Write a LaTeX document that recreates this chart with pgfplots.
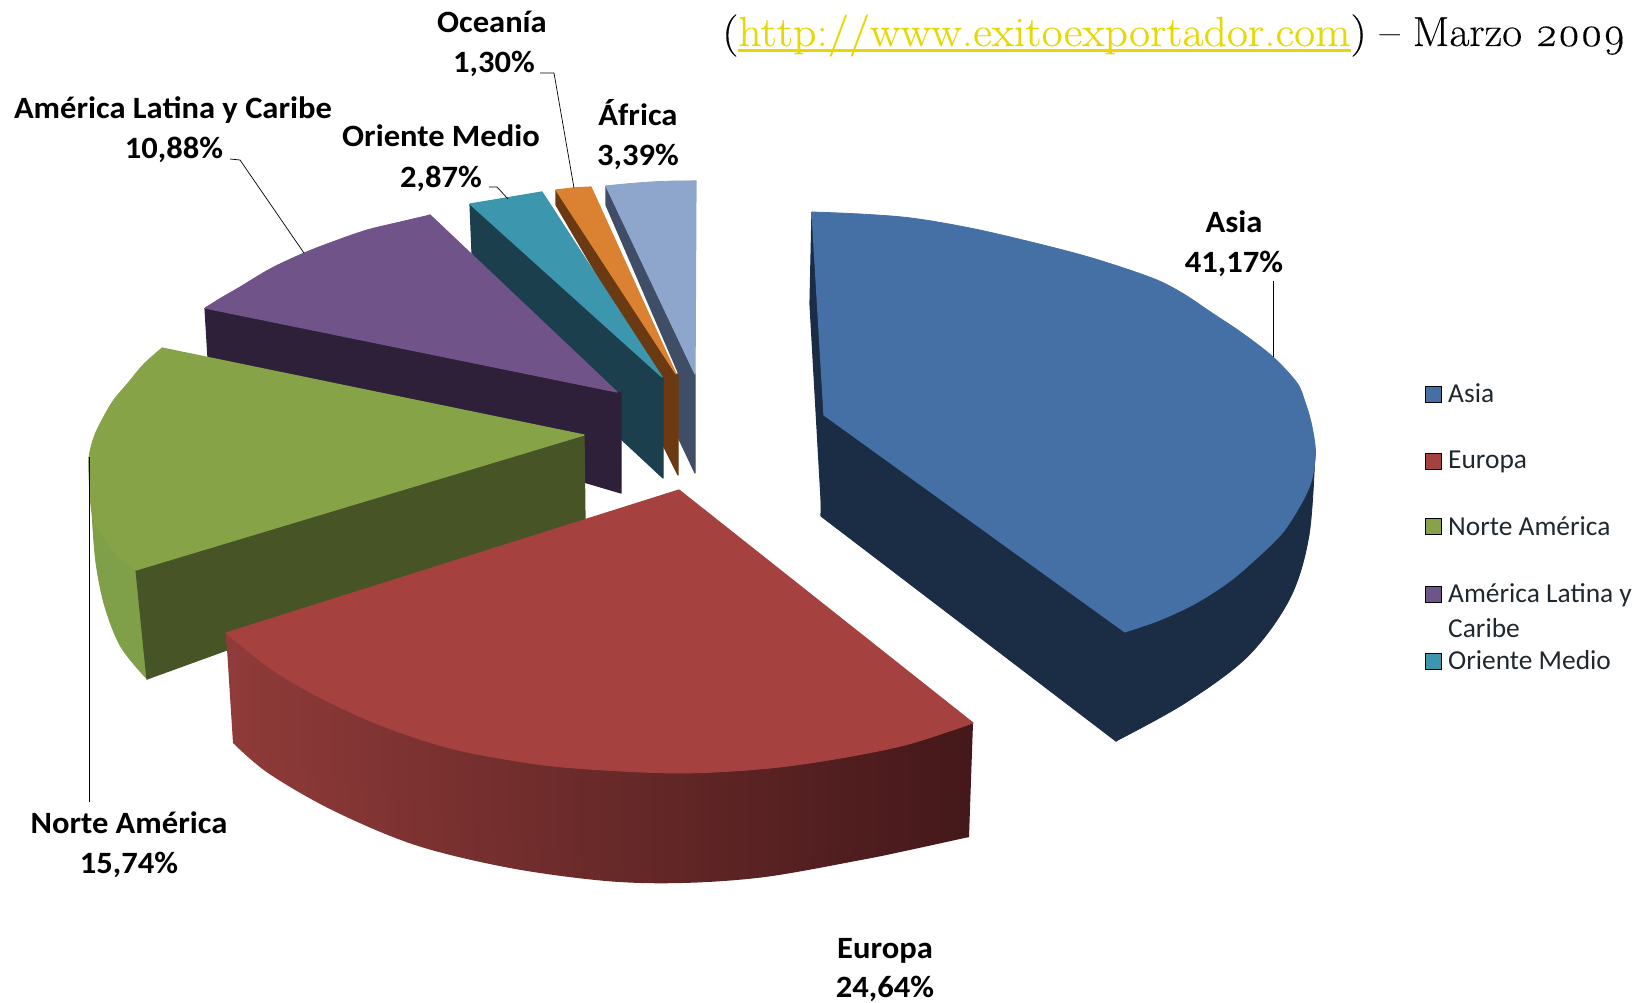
\documentclass[border=0pt]{standalone}
\usepackage{pgfplots}
\pgfplotsset{compat=1.18}
\usepackage{fontspec}
\newfontfamily\carlito{Carlito}
\newfontfamily\ttl{Latin Modern Roman}[FakeBold=0.3,Numbers=OldStyle]
\definecolor{asT}{HTML}{4570A6}\definecolor{asS}{HTML}{1A2D44}
\definecolor{euT}{HTML}{A54240}
\definecolor{euA}{HTML}{8F3B39}\definecolor{euB}{HTML}{6B2B2B}\definecolor{euC}{HTML}{44181A}
\definecolor{naT}{HTML}{87A348}\definecolor{naF}{HTML}{465426}\definecolor{naO}{HTML}{7F9F48}
\definecolor{laT}{HTML}{6F5389}\definecolor{laS}{HTML}{2E2039}
\definecolor{omT}{HTML}{3C96AD}\definecolor{omS}{HTML}{1C3F4D}
\definecolor{ocT}{HTML}{DB8232}\definecolor{ocS}{HTML}{6B3A13}
\definecolor{afT}{HTML}{8FA6CC}\definecolor{afS}{HTML}{3F4E66}
\definecolor{linkc}{HTML}{E6D800}
\definecolor{legtxt}{HTML}{20282E}
\newcommand{\lab}[3]{\node[anchor=base,inner sep=0pt,text=black] at (axis cs:#1,#2) {\scalebox{1.05}[1]{\carlito\bfseries\fontsize{31}{31}\selectfont #3}};}
\newcommand{\leg}[3]{\node[anchor=base west,inner sep=0pt,text=legtxt] at (axis cs:#1,#2) {\carlito\fontsize{27.4}{27.4}\selectfont #3};}
\newcommand{\ulink}[1]{\setbox0\hbox{#1}\rlap{\rule[-6pt]{\wd0}{2.6pt}}\box0}
\pgfplotsset{flat/.style={fill=#1,draw=#1,line width=1.2pt,line join=round},arc/.style={fill=#1,draw=#1,line width=0.8pt,line join=round,smooth,tension=0.55}}
\begin{document}
\begin{tikzpicture}
\useasboundingbox (0,0) rectangle (1645pt,1003pt);
\begin{axis}[at={(0,0)},anchor=south west,scale only axis,width=1645pt,height=1003pt,
  xmin=0,xmax=1645,ymin=0,ymax=1003,y dir=reverse,hide axis,clip=false]
% Africa
\addplot[flat=afS] coordinates {(606,186)(695,374)(695,473)(678,437)(678,372)(606,205)(606,186)};
\addplot[arc=afT] coordinates {(606,186)(625,184)(650,182)(675,181)(696,181)};
\addplot[flat=afT] coordinates {(606,186)(696,181)(695,374)(606,186)};
% Oceania
\addplot[flat=ocS] coordinates {(556,190)(676,374)(678,375)(678,475)(663,445)(662,378)(600,280)(556,205)(556,190)};
\addplot[flat=ocT] coordinates {(556,190)(573,188)(591,187)(676,374)(556,190)};
% Oriente Medio
\addplot[flat=omS] coordinates {(470,204)(662,377)(663,378)(663,478)(620,438)(472,253)(470,204)};
\addplot[arc=omT] coordinates {(470,204)(488,202)(507,198)(525,195)(542,192)};
\addplot[flat=omT] coordinates {(470,204)(542,192)(662,377)(470,204)};
% America Latina
\addplot[flat=laS] coordinates {(205,308)(617,392)(621,393)(621,493)(560,475)(208,358)(205,308)};
\addplot[arc=laT] coordinates {(205,308)(221,298)(240,287)(270,269)(304,253)(335,241)(367,230)(400,222)(430,215)};
\addplot[flat=laT] coordinates {(205,308)(430,215)(617,392)(205,308)};
% Norte America
\addplot[arc=naO] coordinates {(89,457)(92,513)(96,563)(105,607)(121,647)(147,679)};
\addplot[flat=naO] coordinates {(89,457)(136,570)(147,679)(89,457)};
\addplot[flat=naF] coordinates {(136,570)(584,435)(585,520)(147,679)(136,570)};
\addplot[arc=naT] coordinates {(162,348)(144,364)(128,383)(113,401)(102,420)(94,437)(89,457)(89,475)(90,495)(92,513)(97,527)(105,540)(120,558)(136,570)};
\addplot[flat=naT] coordinates {(162,348)(136,570)(584,435)(162,348)};
% Europa
\addplot[draw=none,left color=euA,middle color=euB,right color=euC,smooth,tension=0.55] coordinates {(233,743)(268,773)(332,810)(415,845)(510,868)(606,881)(682,883)(765,877)(861,860)(905,851)(969,837)};
\addplot[draw=none,left color=euA,middle color=euB,right color=euC] coordinates {(226,633)(973,723)(969,837)(600,865)(233,743)};
\addplot[arc=euT] coordinates {(226,633)(270,668)(319,697)(380,725)(446,747)(510,760)(574,768)(676,773)(760,769)(829,760)(905,745)(973,723)};
\addplot[flat=euT] coordinates {(679,490)(226,633)(973,723)(679,490)};
% Asia
\addplot[flat=asS] coordinates {(812,212)(824,415)(822,516)(810,304)(812,212)};
\addplot[flat=asS] coordinates {(824,415)(1125,632)(1116,741)(821,516)(824,415)};
\addplot[arc=asS] coordinates {(1315,451)(1309,535)(1290,598)(1248,656)(1185,703)(1116,741)};
\addplot[flat=asS] coordinates {(1125,632)(1315,451)(1116,741)(1125,632)};
\addplot[arc=asT] coordinates {(812,212)(860,214)(911,218)(970,228)(1031,242)(1092,258)(1152,278)(1182,293)(1212,313)(1242,333)(1273,357)(1297,383)(1305,402)(1311,422)(1315,445)(1315,460)(1311,482)(1301,504)(1283,532)(1259,556)(1230,581)(1196,603)(1160,620)(1125,632)};
\addplot[flat=asT] coordinates {(812,212)(1125,632)(824,415)(812,212)};
% leaders
\addplot[black,line width=0.7pt] coordinates {(1273,281)(1273,357)};
\addplot[black,line width=0.7pt] coordinates {(89,457)(89,802)};
\addplot[black,line width=0.7pt] coordinates {(230,159)(240,160)(304,253)};
\addplot[black,line width=0.7pt] coordinates {(489,187)(497,187)(508,199)};
\addplot[black,line width=0.7pt] coordinates {(540,73)(554,73)(574,188)};
% labels
\lab{492}{33}{Oceanía}\lab{494}{73}{1,30\%}
\lab{173}{119}{América Latina y Caribe}\lab{174}{159}{10,88\%}
\lab{441}{147}{Oriente Medio}\lab{441}{187}{2,87\%}
\lab{638}{126}{África}\lab{638}{166}{3,39\%}
\lab{1234}{232}{Asia}\lab{1234}{272}{41,17\%}
\lab{129}{833}{Norte América}\lab{129}{873}{15,74\%}
\lab{885}{958}{Europa}\lab{885}{997}{24,64\%}
% legend
\addplot[only marks,mark=square*,mark size=8pt,mark options={draw=none,fill=asT}] coordinates {(1433,394.5)};
\addplot[only marks,mark=square*,mark size=8pt,mark options={draw=none,fill=euT}] coordinates {(1433,461)};
\addplot[only marks,mark=square*,mark size=8pt,mark options={draw=none,fill=naT}] coordinates {(1433,526)};
\addplot[only marks,mark=square*,mark size=8pt,mark options={draw=none,fill=laT}] coordinates {(1433,594)};
\addplot[only marks,mark=square*,mark size=8pt,mark options={draw=none,fill=omT}] coordinates {(1433,661)};
\leg{1448}{402}{Asia}\leg{1448}{468}{Europa}\leg{1448}{535}{Norte América}
\leg{1448}{602}{América Latina y}\leg{1448}{637}{Caribe}\leg{1448}{669}{Oriente Medio}
% title
\node[anchor=base west,inner sep=0pt] at (axis cs:722,46) {\scalebox{1.09}[1]{\ttl\fontsize{42}{42}\selectfont(\textcolor{linkc}{\ulink{http://www.exitoexportador.com}})\scalebox{0.945}[1]{ – Marzo 2009}}};
\end{axis}
\end{tikzpicture}
\end{document}
